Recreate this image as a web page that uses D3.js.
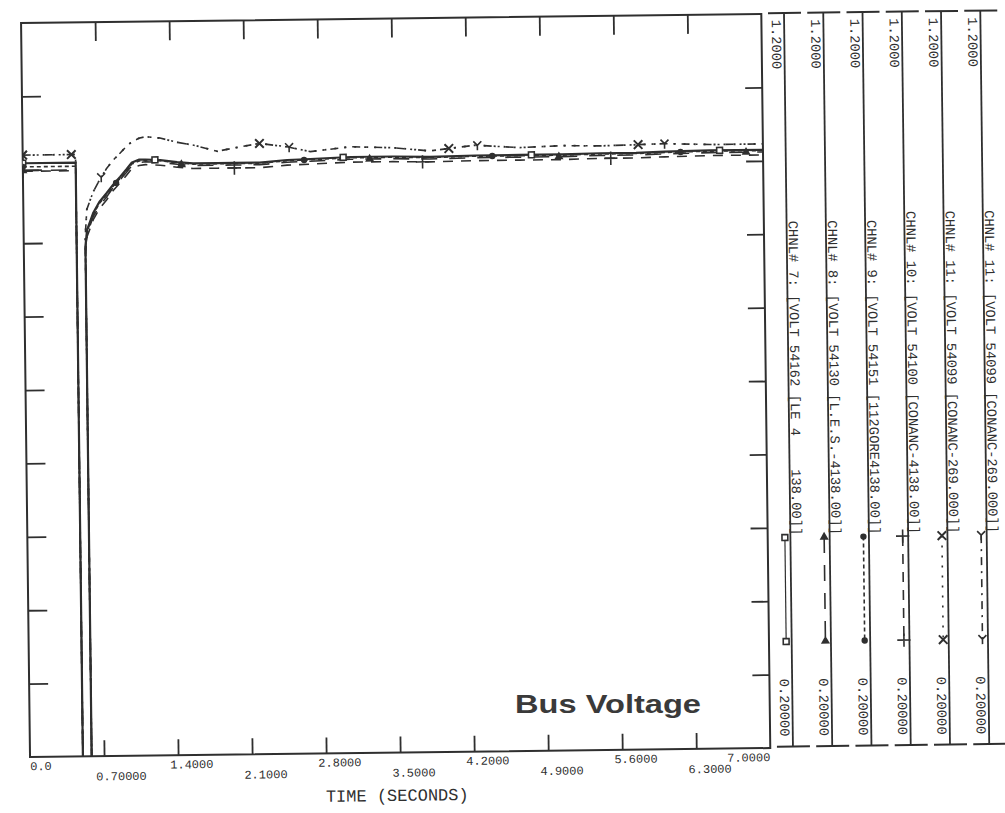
<!DOCTYPE html>
<html>
<head>
<meta charset="utf-8">
<script src="https://cdn.jsdelivr.net/npm/d3@7"></script>
<style>
  body { margin: 0; background: #fff; }
  svg { display: block; }
  text { white-space: pre; }
</style>
</head>
<body>
<script>
// ---- data ----
var times = [0, 0.5, 0.5, 0.583, 0.583, 0.6, 0.66, 0.72, 0.79, 0.85, 0.92, 0.98, 1.03, 1.1, 1.16, 1.3, 1.46, 1.61,
    1.84, 1.99, 2.24, 2.5, 2.72, 3.1, 3.5, 3.85, 4.28, 4.7, 5.1, 5.46, 5.8, 6.07, 6.5, 7.0];

var chnl7Values = [1.009, 1.009, 0.05, 0.05, 0.895, 0.917, 0.940, 0.955, 0.967, 0.978, 0.989, 0.999, 1.008, 1.012,
    1.012, 1.011, 1.008, 1.006, 1.006, 1.006, 1.006, 1.009, 1.010, 1.012, 1.012, 1.011, 1.012, 1.012, 1.012, 1.013,
    1.013, 1.014, 1.015, 1.015];
var chnl8Values = [0.999, 0.999, 0.05, 0.05, 0.890, 0.912, 0.935, 0.950, 0.962, 0.974, 0.985, 0.995, 1.004, 1.008,
    1.009, 1.008, 1.005, 1.003, 1.003, 1.003, 1.003, 1.006, 1.007, 1.009, 1.009, 1.008, 1.009, 1.009, 1.009, 1.010,
    1.010, 1.011, 1.012, 1.012];
var chnl9Values = [1.004, 1.004, 0.05, 0.05, 0.892, 0.915, 0.938, 0.953, 0.965, 0.976, 0.987, 0.997, 1.006, 1.010,
    1.011, 1.010, 1.007, 1.005, 1.005, 1.005, 1.005, 1.008, 1.009, 1.011, 1.011, 1.010, 1.011, 1.011, 1.011, 1.012,
    1.012, 1.013, 1.014, 1.014];
var chnl10Values = [0.998, 0.998, 0.05, 0.05, 0.885, 0.908, 0.931, 0.946, 0.958, 0.970, 0.981, 0.991, 1.000, 1.004,
    1.005, 1.004, 1.001, 0.999, 0.999, 0.999, 0.999, 1.002, 1.003, 1.005, 1.005, 1.004, 1.005, 1.005, 1.005, 1.006,
    1.006, 1.007, 1.008, 1.008];
var chnl11Values = [1.020, 1.020, 0.05, 0.05, 0.910, 0.945, 0.968, 0.984, 1.000, 1.011, 1.021, 1.030, 1.036, 1.041,
    1.043, 1.041, 1.035, 1.031, 1.022, 1.026, 1.032, 1.027, 1.020, 1.026, 1.024, 1.019, 1.026, 1.022, 1.024, 1.023,
    1.024, 1.025, 1.023, 1.023];
// channel 11 is plotted twice (same bus 54099)
var chnl11bValues = chnl11Values;

// times where the plotter dropped a marker on each curve
var chnl7Markers = [0, 1.25, 3.03, 4.81, 6.59];
var chnl8Markers = [0, 1.5, 3.28, 5.07, 6.84];
var chnl9Markers = [0, 0.88, 2.66, 4.44, 6.22];
var chnl10Markers = [0, 2.0, 3.78, 5.56];
var chnl11Markers = [0, 0.46, 2.24, 4.03, 5.82];
var chnl11bMarkers = [0, 0.74, 2.52, 4.3, 6.07];

var channelLabels = [
    "CHNL# 7: [VOLT 54162 [LE 4    138.00]]",
    "CHNL# 8: [VOLT 54130 [L.E.S.-4138.00]]",
    "CHNL# 9: [VOLT 54151 [112GORE4138.00]]",
    "CHNL# 10: [VOLT 54100 [CONANC-4138.00]]",
    "CHNL# 11: [VOLT 54099 [CONANC-269.000]]",
    "CHNL# 11: [VOLT 54099 [CONANC-269.000]]"
];

var xDomain = [0, 7];
var yDomain = [0.2, 1.2];
var xTickValues = [0, 0.7, 1.4, 2.1, 2.8, 3.5, 4.2, 4.9, 5.6, 6.3, 7.0];
var xTickLabels = ["0.0", "0.70000", "1.4000", "2.1000", "2.8000", "3.5000", "4.2000", "4.9000", "5.6000", "6.3000", "7.0000"];
var yTickValues = [0.3, 0.4, 0.5, 0.6, 0.7, 0.8, 0.9, 1.0, 1.1];
var legendMaxLabel = "1.2000";
var legendMinLabel = "0.20000";
var xTitle = "TIME (SECONDS)";
var chartTitle = "Bus Voltage";

createPlot();

function createPlot() {
    var width = 1005,
        height = 813;
    var ink = "#2f2f2f";
    var mono = "'Liberation Mono', 'DejaVu Sans Mono', monospace";

    var left = 25.7, right = 766, top = 17.2, bottom = 751.3;

    var svg = d3.select("body").append("svg")
        .attr("width", width)
        .attr("height", height);

    // the scanned page sits slightly skewed
    var page = svg.append("g")
        .attr("transform", "rotate(-0.7, 500, 400)");

    var x = d3.scaleLinear().domain(xDomain).range([left, right]);
    var y = d3.scaleLinear().domain(yDomain).range([bottom, top]);

    svg.append("defs").append("clipPath")
        .attr("id", "plotclip")
        .append("rect")
        .attr("x", left).attr("y", top)
        .attr("width", right - left).attr("height", bottom - top);

    // frame
    page.append("rect")
        .attr("x", left).attr("y", top)
        .attr("width", right - left).attr("height", bottom - top)
        .attr("fill", "none")
        .attr("stroke", ink)
        .attr("stroke-width", 2);

    // inward ticks on all four sides
    var innerX = xTickValues.slice(1, -1);
    function tidy(g) {
        g.select(".domain").remove();
        g.selectAll("line").attr("stroke", ink).attr("stroke-width", 1.8);
    }
    page.append("g").attr("transform", "translate(0," + top + ")")
        .call(d3.axisTop(x).tickValues(innerX).tickSize(-19).tickFormat(""))
        .call(tidy);
    page.append("g").attr("transform", "translate(0," + bottom + ")")
        .call(d3.axisBottom(x).tickValues(innerX).tickSize(-16).tickFormat(""))
        .call(tidy);
    page.append("g").attr("transform", "translate(" + left + ",0)")
        .call(d3.axisLeft(y).tickValues(yTickValues).tickSize(-19).tickFormat(""))
        .call(tidy);
    page.append("g").attr("transform", "translate(" + right + ",0)")
        .call(d3.axisRight(y).tickValues(yTickValues).tickSize(-17).tickFormat(""))
        .call(tidy);

    // staggered time labels
    page.selectAll(".xlabel")
        .data(xTickValues)
        .enter()
        .append("text")
        .attr("class", "xlabel")
        .attr("x", function (d, i) {
            if (i === 0 || i === xTickValues.length - 1) return x(d);
            return x(d) - 8;
        })
        .attr("y", function (d, i) { return i % 2 === 0 ? 764.5 : 775.5; })
        .attr("text-anchor", function (d, i) { return i === xTickValues.length - 1 ? "end" : "start"; })
        .attr("font-family", mono)
        .attr("font-size", "12px")
        .attr("fill", ink)
        .text(function (d, i) { return xTickLabels[i]; });

    page.append("text")
        .attr("x", 321)
        .attr("y", 799.6)
        .attr("font-family", mono)
        .attr("font-size", "17px")
        .attr("fill", ink)
        .text(xTitle);

    // channels
    var channels = [
        { values: chnl7Values, markers: chnl7Markers, dash: null, width: 2.2, symbol: "square" },
        { values: chnl8Values, markers: chnl8Markers, dash: "16,12", width: 1.6, symbol: "triangle" },
        { values: chnl9Values, markers: chnl9Markers, dash: "4,3", width: 1.6, symbol: "circle" },
        { values: chnl10Values, markers: chnl10Markers, dash: "10,8", width: 1.6, symbol: "plus" },
        { values: chnl11Values, markers: chnl11Markers, dash: "2,8", width: 1.8, symbol: "times" },
        { values: chnl11bValues, markers: chnl11bMarkers, dash: "8,6,2,6", width: 1.6, symbol: "wye" }
    ];

    var line = d3.line()
        .x(function (d) { return x(d[0]); })
        .y(function (d) { return y(d[1]); });

    var plot = page.append("g").attr("clip-path", "url(#plotclip)");

    channels.forEach(function (c) {
        plot.append("path")
            .datum(d3.zip(times, c.values))
            .attr("d", line)
            .attr("fill", "none")
            .attr("stroke", ink)
            .attr("stroke-width", c.width)
            .attr("stroke-dasharray", c.dash);
    });

    channels.forEach(function (c) {
        plot.selectAll(null)
            .data(c.markers)
            .enter()
            .append("path")
            .attr("transform", function (t) {
                return "translate(" + x(t) + "," + y(valueAt(c.values, t)) + ")";
            })
            .each(function () { drawSymbol(d3.select(this), c.symbol, ink); });
    });

    // legend strips on the right
    var stripX = d3.scaleLinear().domain([0, 5]).range([788.7, 985]);
    var legend = page.selectAll(".strip")
        .data(channels)
        .enter()
        .append("g")
        .attr("class", "strip")
        .attr("transform", function (d, i) { return "translate(" + stripX(i) + ",0)"; });

    legend.append("line")
        .attr("x1", 0).attr("x2", 0)
        .attr("y1", 16.5).attr("y2", 750)
        .attr("stroke", ink).attr("stroke-width", 1.8);
    legend.append("line")
        .attr("x1", -16).attr("x2", 17)
        .attr("y1", 16.5).attr("y2", 16.5)
        .attr("stroke", ink).attr("stroke-width", 2);
    legend.append("line")
        .attr("x1", -16).attr("x2", 17)
        .attr("y1", 750).attr("y2", 750)
        .attr("stroke", ink).attr("stroke-width", 2);

    legend.append("text")
        .attr("transform", "translate(-12.4,23) rotate(90)")
        .attr("font-family", mono)
        .attr("font-size", "13.8px")
        .attr("fill", ink)
        .text(legendMaxLabel);

    legend.append("text")
        .attr("transform", "translate(-12.4,740) rotate(90)")
        .attr("text-anchor", "end")
        .attr("font-family", mono)
        .attr("font-size", "13.8px")
        .attr("fill", ink)
        .text(legendMinLabel);

    legend.append("text")
        .attr("transform", "translate(2,539) rotate(90)")
        .attr("text-anchor", "end")
        .attr("font-family", mono)
        .attr("font-size", "13.8px")
        .attr("fill", ink)
        .text(function (d, i) { return channelLabels[i]; });

    legend.append("line")
        .attr("x1", -5.5).attr("x2", -5.5)
        .attr("y1", 541).attr("y2", 645)
        .attr("stroke", ink)
        .attr("stroke-width", function (d) { return d.width === 2.2 ? 1.2 : 1.6; })
        .attr("stroke-dasharray", function (d) { return d.dash; });

    legend.each(function (d) {
        var g = d3.select(this);
        [541, 645].forEach(function (yy) {
            g.append("path")
                .attr("transform", "translate(-5.5," + yy + ")")
                .each(function () { drawSymbol(d3.select(this), d.symbol, ink); });
        });
    });

    // overlay caption added on top of the scan
    svg.append("text")
        .attr("x", 515)
        .attr("y", 713)
        .attr("font-family", "'Liberation Sans', Arial, sans-serif")
        .attr("font-weight", "bold")
        .attr("font-size", "26px")
        .attr("textLength", 186)
        .attr("lengthAdjust", "spacingAndGlyphs")
        .attr("fill", "#3a3a3a")
        .text(chartTitle);
}

function valueAt(values, t) {
    for (var i = times.length - 1; i > 0; i--) {
        if (times[i - 1] <= t && t <= times[i] && times[i] > times[i - 1]) {
            var f = (t - times[i - 1]) / (times[i] - times[i - 1]);
            return values[i - 1] + f * (values[i] - values[i - 1]);
        }
    }
    return values[0];
}

function drawSymbol(sel, kind, ink) {
    if (kind === "square") {
        sel.attr("d", d3.symbol(d3.symbolSquare, 34)())
            .attr("fill", "#fff").attr("stroke", ink).attr("stroke-width", 1.6);
    } else if (kind === "triangle") {
        sel.attr("d", d3.symbol(d3.symbolTriangle, 36)())
            .attr("fill", ink);
    } else if (kind === "circle") {
        sel.attr("d", d3.symbol(d3.symbolCircle, 32)())
            .attr("fill", ink);
    } else if (kind === "plus") {
        sel.attr("d", d3.symbol(d3.symbolPlus, 60)())
            .attr("fill", "none").attr("stroke", ink).attr("stroke-width", 1.6);
    } else if (kind === "times") {
        sel.attr("d", d3.symbol(d3.symbolTimes, 50)())
            .attr("fill", "none").attr("stroke", ink).attr("stroke-width", 2);
    } else {
        sel.attr("d", "M0,0L0,5M0,0L-4,-4M0,0L4,-4")
            .attr("fill", "none").attr("stroke", ink).attr("stroke-width", 1.6);
    }
}
</script>
</body>
</html>
